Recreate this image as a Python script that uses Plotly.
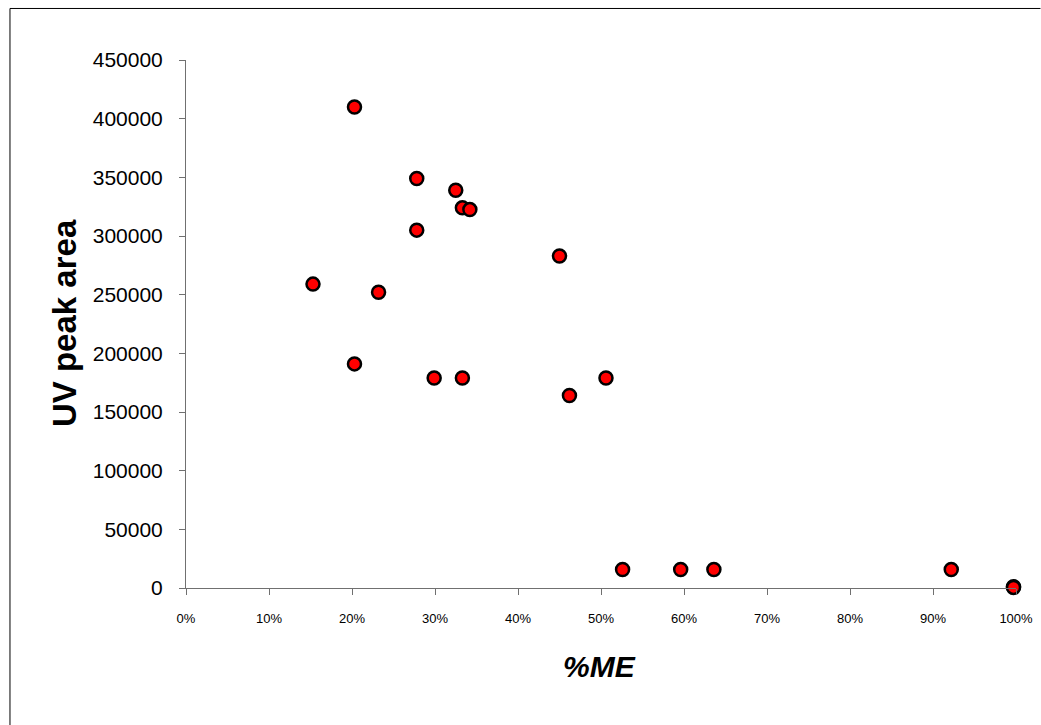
import plotly.graph_objects as go

# %ME (fraction) and UV peak area
me_fraction = [0.153, 0.203, 0.203, 0.232, 0.278, 0.278, 0.299, 0.325, 0.333, 0.342,
               0.333, 0.450, 0.462, 0.506, 0.526, 0.596, 0.636, 0.922, 0.997, 0.997]
uv_peak_area = [259000, 410000, 191000, 252000, 349000, 305000, 179000, 339000, 324000, 322500,
                179000, 283000, 164000, 179000, 15700, 15700, 15700, 15700, 1000, 500]

x_ticks = [i / 10 for i in range(11)]
y_ticks = list(range(0, 450001, 50000))

W, H = 1041, 725
L, R, T, B = 185.7, 24.5, 60, 137.3
pw, ph = W - L - R, H - T - B

def px_to_paper_x(px):
    return (px - L) / pw

def px_to_paper_y(py):
    return (H - B - py) / ph

FONT = "Liberation Sans, Arial, sans-serif"
AXIS_COLOR = "#707070"

fig = go.Figure()
fig.add_trace(go.Scatter(
    x=me_fraction, y=uv_peak_area, mode="markers",
    marker=dict(symbol="circle", size=13, color="#ff0000",
                line=dict(color="#000000", width=2.5)),
    cliponaxis=False, showlegend=False,
))

fig.update_layout(
    width=W, height=H,
    margin=dict(l=L, r=R, t=T, b=B, pad=0),
    paper_bgcolor="white", plot_bgcolor="white",
    font=dict(family=FONT, color="#000000"),
    xaxis=dict(
        range=[0, 1], tickvals=x_ticks, tickformat=".0%",
        showgrid=False, zeroline=False, automargin=False,
        showline=True, linecolor=AXIS_COLOR, linewidth=1,
        ticks="outside", ticklen=6, tickcolor=AXIS_COLOR, tickwidth=1,
        tickfont=dict(family=FONT, size=13, color="#000000"),
        ticklabelstandoff=12,
    ),
    yaxis=dict(
        range=[0, 450000], tickvals=y_ticks, tickformat="d",
        showgrid=False, zeroline=False, automargin=False,
        showline=True, linecolor=AXIS_COLOR, linewidth=1,
        ticks="outside", ticklen=6, tickcolor=AXIS_COLOR, tickwidth=1,
        tickfont=dict(family=FONT, size=21, color="#000000"),
        ticklabelstandoff=12,
    ),
    shapes=[
        dict(type="line", xref="paper", yref="paper",
             x0=px_to_paper_x(9.5), x1=px_to_paper_x(1041),
             y0=px_to_paper_y(8.5), y1=px_to_paper_y(8.5),
             line=dict(color="#000000", width=1)),
        dict(type="line", xref="paper", yref="paper",
             x0=px_to_paper_x(9.5), x1=px_to_paper_x(9.5),
             y0=px_to_paper_y(8.5), y1=px_to_paper_y(725),
             line=dict(color="#000000", width=1)),
    ],
    annotations=[
        dict(text="<b>UV peak area</b>", xref="paper", yref="paper",
             x=px_to_paper_x(64), y=px_to_paper_y(322.5),
             xanchor="center", yanchor="middle", textangle=-90,
             showarrow=False, font=dict(family=FONT, size=33, color="#000000")),
        dict(text="<b><i>%ME</i></b>", xref="paper", yref="paper",
             x=px_to_paper_x(600), y=px_to_paper_y(666),
             xanchor="center", yanchor="middle",
             showarrow=False, font=dict(family=FONT, size=30, color="#000000")),
    ],
)

fig.write_html("out.html")
